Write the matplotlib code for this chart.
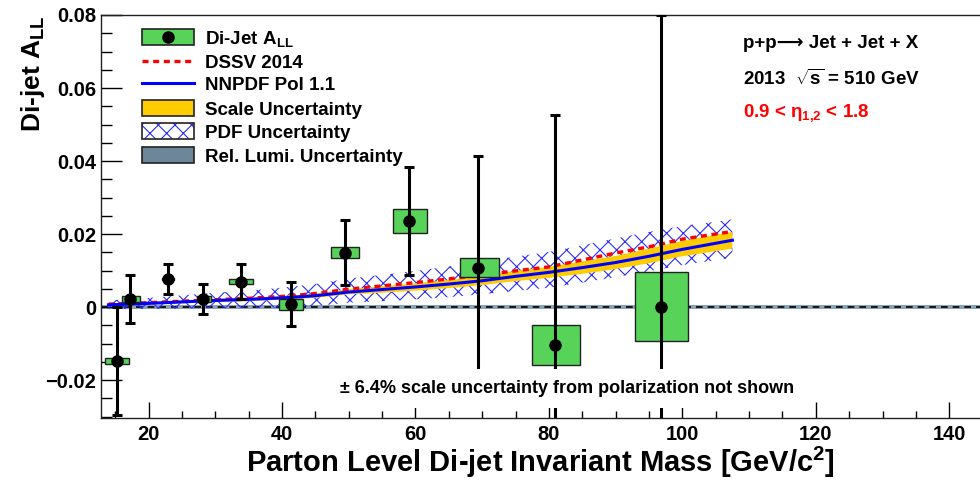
import matplotlib
matplotlib.use("Agg")
import matplotlib.pyplot as plt
from matplotlib.patches import Rectangle
from matplotlib.lines import Line2D
from matplotlib.transforms import Affine2D
from matplotlib.ticker import MultipleLocator

plt.rcParams['font.family'] = ['Liberation Sans', 'DejaVu Sans']
plt.rcParams['font.weight'] = 'bold'
plt.rcParams['axes.labelweight'] = 'bold'
plt.rcParams['mathtext.fontset'] = 'custom'
plt.rcParams['mathtext.rm'] = 'Liberation Sans:bold'
plt.rcParams['mathtext.it'] = 'Liberation Sans:bold'
plt.rcParams['mathtext.bf'] = 'Liberation Sans:bold'
plt.rcParams['mathtext.sf'] = 'Liberation Sans:bold'
plt.rcParams['hatch.linewidth'] = 0.8

# ---- measured di-jet A_LL ----
mass = [15.3, 17.2, 22.9, 28.2, 33.8, 41.3, 49.5, 59.0, 69.3, 80.9, 96.8]
a_ll = [-0.0148, 0.0022, 0.0077, 0.0022, 0.0069, 0.0008, 0.0149, 0.0236,
        0.0108, -0.0104, 0.0001]
stat_err = [0.0148, 0.0066, 0.0040, 0.0040, 0.0048, 0.0060, 0.0090, 0.0148,
            0.0305, 0.0630, 0.0800]
# systematic boxes: mass edges and A_LL half height
box_lo = [13.5, 16.0, 22.0, 27.2, 32.1, 39.6, 47.3, 56.7, 66.6, 77.4, 92.9]
box_hi = [17.1, 18.7, 23.8, 29.3, 35.6, 43.2, 51.6, 61.8, 72.5, 84.6, 100.8]
sys_err = [0.0008, 0.0007, 0.0002, 0.0007, 0.0007, 0.0015, 0.0015, 0.0033,
           0.0025, 0.0056, 0.0095]

# ---- theory predictions ----
theory_mass = [14, 20, 25, 30, 35, 40, 45, 50, 55, 60, 65, 70, 75, 80, 85, 90,
               95, 100, 107.5]
nnpdf = [0.0006, 0.0010, 0.0014, 0.0018, 0.0021, 0.0025, 0.0031, 0.0041,
         0.0048, 0.0055, 0.0063, 0.0072, 0.0084, 0.0095, 0.0108, 0.0122,
         0.0139, 0.0158, 0.0183]
dssv = [0.0008, 0.0012, 0.0016, 0.0020, 0.0024, 0.0029, 0.0037, 0.0049,
        0.0058, 0.0067, 0.0077, 0.0088, 0.0099, 0.0110, 0.0129, 0.0148,
        0.0165, 0.0186, 0.0207]
scale_lo = [0.0003, 0.0007, 0.0010, 0.0014, 0.0016, 0.0020, 0.0025, 0.0035,
            0.0039, 0.0045, 0.0052, 0.0060, 0.0071, 0.0080, 0.0091, 0.0104,
            0.0120, 0.0139, 0.0160]
scale_hi = [0.0009, 0.0013, 0.0018, 0.0022, 0.0026, 0.0030, 0.0037, 0.0049,
            0.0057, 0.0065, 0.0074, 0.0084, 0.0099, 0.0110, 0.0125, 0.0140,
            0.0160, 0.0181, 0.0206]
pdf_lo = [-0.0006, -0.0005, -0.0004, -0.0003, -0.0003, -0.0001, 0.0003,
          0.0012, 0.0016, 0.0021, 0.0027, 0.0035, 0.0044, 0.0053, 0.0067,
          0.0082, 0.0098, 0.0115, 0.0135]
pdf_hi = [0.0018, 0.0025, 0.0032, 0.0039, 0.0045, 0.0053, 0.0063, 0.0078,
          0.0088, 0.0099, 0.0111, 0.0125, 0.0138, 0.0151, 0.0169, 0.0188,
          0.0206, 0.0222, 0.0240]
lumi_err = 0.0006

x_ticks = [20, 40, 60, 80, 100, 120, 140]
x_tick_labels = ['20', '40', '60', '80', '100', '120', '140']
y_ticks = [-0.02, 0.0, 0.02, 0.04, 0.06, 0.08]
y_tick_labels = ['\u22120.02', '0', '0.02', '0.04', '0.06', '0.08']

GREEN = '#57d35a'
YELLOW = '#ffcc00'
SLATE = '#6b8799'
HATCH_BLUE = '#2a2aff'
DASH = (0, (1.8, 1.4))

W, H = 980, 491
fig = plt.figure(figsize=(W / 100, H / 100), dpi=100)
ax = fig.add_axes([100.5 / W, (H - 418) / H, (W - 100.5) / W, (418 - 15) / H])
# pixel coordinates (origin top-left) for annotations outside the data
pix = Affine2D().scale(1 / W, -1 / H).translate(0, 1) + fig.transFigure

ax.set_xlim(12.8, 144.6)
ax.set_ylim(-0.0304, 0.08)

# relative luminosity band and zero line
ax.axhspan(-lumi_err, lumi_err, color='#8aa3b6', lw=0, zorder=1)
ax.axhline(0, color='black', lw=1.2, ls=(0, (4, 3)), zorder=1.5)

# theory bands and curves
ax.fill_between(theory_mass, pdf_lo, pdf_hi, facecolor='none', edgecolor=HATCH_BLUE,
                hatch='xx', lw=0, zorder=2)
ax.fill_between(theory_mass, scale_lo, scale_hi, facecolor=YELLOW, lw=0, zorder=2.5)
ax.plot(theory_mass, dssv, color='#ff0000', lw=2.4, ls=DASH, zorder=3)
ax.plot(theory_mass, nnpdf, color='#0000ff', lw=2.2, zorder=3.2)

# systematic boxes
for lo, hi, y, s in zip(box_lo, box_hi, a_ll, sys_err):
    ax.add_patch(Rectangle((lo, y - s), hi - lo, 2 * s, facecolor=GREEN,
                           edgecolor='#222222', lw=1.0, zorder=4))

ax.errorbar(mass, a_ll, yerr=stat_err, fmt='o', color='black', ms=8,
            elinewidth=2.2, capsize=3.5, capthick=2.2, zorder=5)

ax.text(0.530, 0.062,
        '\u00b1 6.4% scale uncertainty from polarization not shown',
        transform=ax.transAxes, fontsize=13, ha='center', va='baseline', zorder=6,
        bbox=dict(boxstyle='square,pad=0.6', facecolor='white', edgecolor='none'))

# axes styling
ax.set_xticks(x_ticks)
ax.set_xticklabels(x_tick_labels)
ax.set_yticks(y_ticks)
ax.set_yticklabels(y_tick_labels)
ax.xaxis.set_minor_locator(MultipleLocator(5))
ax.yaxis.set_minor_locator(MultipleLocator(0.005))
ax.tick_params(axis='x', which='major', direction='in', length=11.3, width=1,
               labelsize=14.5, pad=5)
ax.tick_params(axis='x', which='minor', direction='in', length=4.8, width=1)
ax.tick_params(axis='y', which='major', direction='in', length=15, width=1,
               labelsize=14.5, pad=3)
ax.tick_params(axis='y', which='minor', direction='in', length=8, width=1)
for sp in ax.spines.values():
    sp.set_linewidth(1.0)
    sp.set_color('#222222')
ax.spines['right'].set_visible(False)

ax.set_xlabel('Parton Level Di-jet Invariant Mass [GeV/c$^{2}$]', fontsize=21,
              fontweight='bold')
ax.xaxis.set_label_coords(0.5, -0.067)
ax.set_ylabel('Di-jet A$_{\\rm LL}$', fontsize=19, loc='top', fontweight='bold')
ax.yaxis.set_label_coords(-0.061, 1.0)

# legend
rows = [37, 61, 83.3, 108.3, 131, 155.3]
hx0, hx1, hh = 142, 194, 16
labels = ['Di-Jet A$_{\\rm LL}$', 'DSSV 2014', 'NNPDF Pol 1.1',
          'Scale Uncertainty', 'PDF Uncertainty', 'Rel. Lumi. Uncertainty']


def box(yc, **kw):
    fig.add_artist(Rectangle((hx0, yc + hh / 2), hx1 - hx0, -hh, transform=pix, **kw))


box(rows[0], facecolor=GREEN, edgecolor='#222222', lw=1.2)
fig.add_artist(Line2D([(hx0 + hx1) / 2], [rows[0]], marker='o', ms=8, color='black',
                      transform=pix))
fig.add_artist(Line2D([hx0, hx1], [rows[1], rows[1]], color='#ff0000', lw=2.4,
                      ls=DASH, transform=pix))
fig.add_artist(Line2D([hx0, hx1], [rows[2], rows[2]], color='#0000ff', lw=2.2,
                      transform=pix))
box(rows[3], facecolor=YELLOW, edgecolor='#222222', lw=1.2)
box(rows[4], facecolor='white', edgecolor=HATCH_BLUE, hatch='xx', lw=0)
box(rows[4], facecolor='none', edgecolor='#222222', lw=1.2)
box(rows[5], facecolor=SLATE, edgecolor='#222222', lw=1.2)
for yc, lab in zip(rows, labels):
    fig.text(205, yc + 6.7, lab, transform=pix, fontsize=13.5, va='baseline',
             ha='left')

# reaction / kinematics labels
fig.text(743, 48.3, 'p+p\u27f6 Jet + Jet + X', transform=pix, fontsize=13.5,
         va='baseline')
fig.text(743, 85, '2013  $\\sqrt{s}$ = 510 GeV', transform=pix, fontsize=13.5,
         va='baseline')
fig.text(743, 116.7, '0.9 < $\\eta_{1{,}2}$ < 1.8', transform=pix, fontsize=13.5,
         va='baseline', color='#ff0000')

fig.savefig('out.png', dpi=100)
